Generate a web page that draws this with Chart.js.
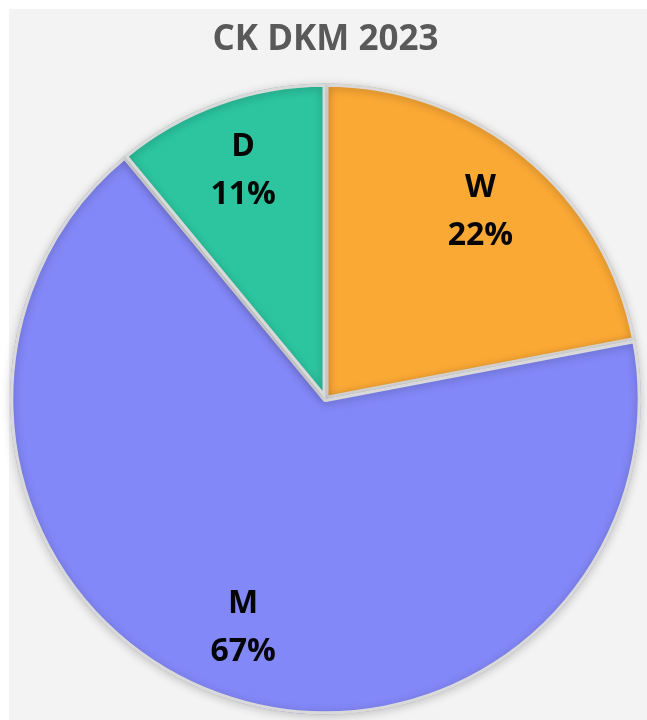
<!DOCTYPE html>
<html>
<head>
<meta charset="utf-8">
<script src="https://cdn.jsdelivr.net/npm/chart.js@4"></script>
<style>
  html, body { margin: 0; padding: 0; background: #ffffff; }
  #wrap { width: 647px; height: 720px; }
</style>
</head>
<body>
<div id="wrap"><canvas id="pie-chart" width="647" height="720"></canvas></div>
<script>
const chartTitle = 'CK DKM 2023';
const categories = ['W', 'M', 'D'];
const shares = [22, 67, 11];
const sliceColors = ['#FBA935', '#8388F8', '#2CC5A0'];

// light gray panel behind the chart
const panelBg = {
    id: 'panelBg',
    beforeDraw(chart) {
        const ctx = chart.ctx;
        ctx.save();
        ctx.fillStyle = '#f3f3f3';
        ctx.fillRect(9, 9, chart.width - 9, chart.height - 9);
        ctx.restore();
    }
};

// soft shadow under the pie
const pieShadow = {
    id: 'pieShadow',
    beforeDatasetDraw(chart) {
        const ctx = chart.ctx;
        ctx.save();
        ctx.shadowColor = 'rgba(0,0,0,0.22)';
        ctx.shadowBlur = 10;
        ctx.shadowOffsetY = 2;
    },
    afterDatasetDraw(chart) {
        chart.ctx.restore();
    }
};

// category + percent text inside each slice
const sliceLabels = {
    id: 'sliceLabels',
    afterDatasetsDraw(chart) {
        const ctx = chart.ctx;
        const meta = chart.getDatasetMeta(0);
        const total = shares.reduce((a, b) => a + b, 0);
        ctx.save();
        ctx.fillStyle = '#050505';
        ctx.font = 'bold 32px "Open Sans", sans-serif';
        ctx.textAlign = 'center';
        ctx.textBaseline = 'middle';
        meta.data.forEach((arc, i) => {
            const p = arc.getProps(['x', 'y', 'startAngle', 'endAngle', 'outerRadius'], true);
            const mid = (p.startAngle + p.endAngle) / 2;
            const r = p.outerRadius * 0.77;
            const x = p.x + Math.cos(mid) * r;
            const y = p.y + Math.sin(mid) * r;
            const pct = Math.round(shares[i] / total * 100) + '%';
            ctx.fillText(categories[i], x, y - 24);
            ctx.fillText(pct, x, y + 24);
        });
        ctx.restore();
    }
};

new Chart(document.getElementById('pie-chart'), {
    type: 'pie',
    data: {
        labels: categories,
        datasets: [{
            data: shares,
            backgroundColor: sliceColors,
            borderColor: '#d9d9d9',
            borderWidth: 3,
            borderAlign: 'inner',
            hoverOffset: 0
        }]
    },
    options: {
        responsive: false,
        animation: false,
        events: [],
        layout: { padding: { top: 0, bottom: 2, left: 10, right: 6 } },
        plugins: {
            legend: { display: false },
            tooltip: { enabled: false },
            title: {
                display: true,
                text: chartTitle,
                color: '#595959',
                font: { family: '"Open Sans", sans-serif', size: 35, weight: 'bold' },
                padding: { top: 19, bottom: 19 }
            }
        }
    },
    plugins: [panelBg, pieShadow, sliceLabels]
});
</script>
</body>
</html>
